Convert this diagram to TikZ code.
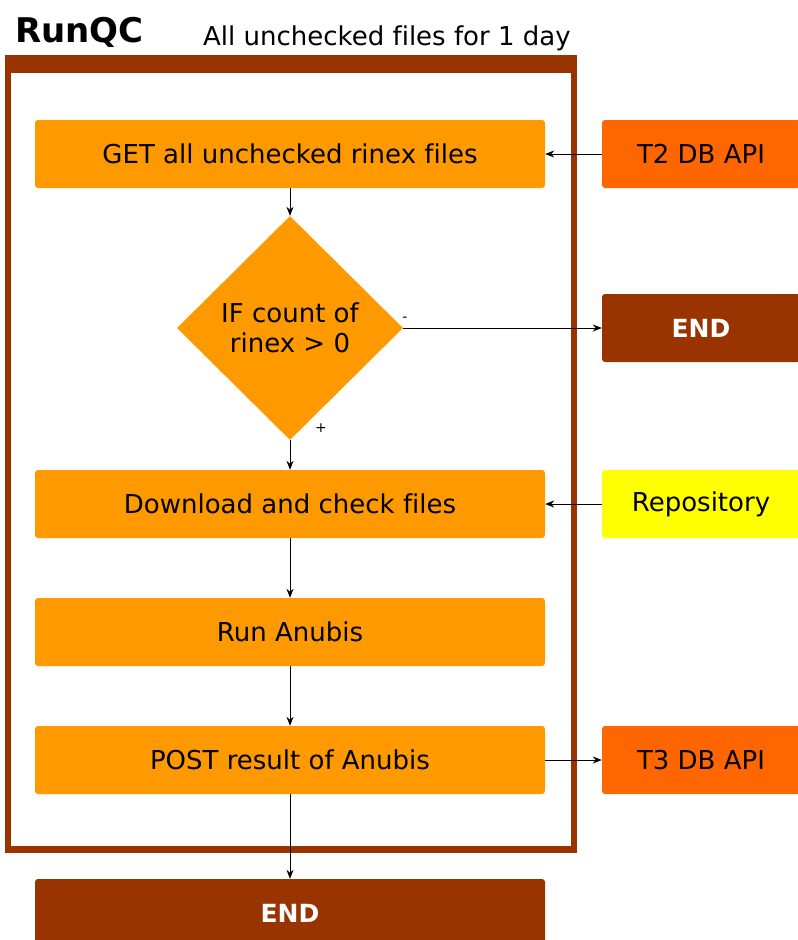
\documentclass[tikz,border=0pt]{standalone}
\usepackage{fontspec}
\setmainfont[Ligatures=NoCommon]{DejaVu Sans}
\usetikzlibrary{shapes.geometric,arrows.meta}
\definecolor{boxor}{HTML}{FF9900}
\definecolor{apior}{HTML}{FF6600}
\definecolor{endbr}{HTML}{993300}
\definecolor{repoy}{HTML}{FFFF00}
\tikzset{
  box/.style={rectangle, rounded corners=3pt, fill=boxor, draw=none, minimum width=510pt, minimum height=68pt, inner sep=0pt, font=\fontsize{26}{30}\selectfont},
  side/.style={rectangle, rounded corners=3pt, draw=none, minimum width=200pt, minimum height=68pt, inner sep=0pt, font=\fontsize{26}{30}\selectfont},
  endbox/.style={fill=endbr, text=white, font=\fontsize{25}{28}\selectfont\bfseries},
  arr/.style={-{Stealth[length=9pt,width=7pt]}, line width=0.8pt, black},
  lbl/.style={font=\fontsize{14}{16}\selectfont, inner sep=0pt}
}
\begin{document}
\begin{tikzpicture}[x=1pt,y=-1pt]
\useasboundingbox (0,0) rectangle (798,940);
% frame
\fill[endbr] (5,55) rectangle (577,853);
\fill[white] (11,73) rectangle (571,846);
\node[anchor=base west, inner sep=0pt, font=\fontsize{34}{38}\selectfont\bfseries] (title) at (15,42) {RunQC};
\node[anchor=base west, inner sep=0pt, font=\fontsize{26}{30}\selectfont] (sub) at (203,45) {All unchecked files for 1 day};
% main boxes
\node[box] (get) at (290,154) {GET all unchecked rinex files};
\node[diamond, fill=boxor, draw=none, minimum width=226pt, minimum height=224pt, inner sep=0pt, aspect=1, align=center, font=\fontsize{26}{30}\selectfont] (dec) at (290,328) {IF count of\\rinex > 0};
\node[box] (dl) at (290,504) {Download and check files};
\node[box] (run) at (290,632) {Run Anubis};
\node[box] (post) at (290,760) {POST result of Anubis};
\node[box, endbox] (end1) at (290,913) {END};
% side boxes
\node[side, fill=apior, minimum width=198pt] (t2) at (701,154) {T2 DB API};
\node[side, endbox, minimum width=198pt] (end2) at (701,328) {END};
\node[side, fill=repoy, minimum width=198pt] (repo) at (701,504) {Repository};
\node[side, fill=apior, minimum width=198pt] (t3) at (701,760) {T3 DB API};
% arrows
\draw[arr] (get.south) -- (dec.north);
\draw[arr] (dec.east) -- (end2.west);
\draw[arr] (dec.south) -- (dl.north);
\draw[arr] (dl.south) -- (run.north);
\draw[arr] (run.south) -- (post.north);
\draw[arr] (post.south) -- (end1.north);
\draw[arr] (t2.west) -- (get.east);
\draw[arr] (repo.west) -- (dl.east);
\draw[arr] (post.east) -- (t3.west);
\node[lbl] (minus) at (405,319) {-};
\node[lbl] (plus) at (321,428) {+};
\end{tikzpicture}
\end{document}
